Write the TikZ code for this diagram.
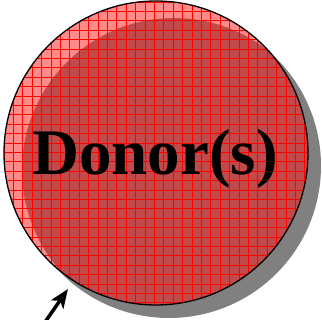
\documentclass[tikz,border=0pt]{standalone}
\usepackage{fontspec}
\setmainfont{Liberation Serif}
\usetikzlibrary{arrows.meta}
\definecolor{lightred}{RGB}{255,138,138}
\definecolor{darkred}{RGB}{194,74,74}
\definecolor{shadowgray}{RGB}{128,128,128}
\tikzset{
  outline/.style={draw=black,line width=1.3pt},
  gridline/.style={draw=red,line width=0.7pt},
  pointer/.style={line width=3.5pt,-{Stealth[length=19pt,width=15pt,inset=5pt]}}
}
\begin{document}
\begin{tikzpicture}[x=1pt,y=-1pt]
\useasboundingbox (0,0) rectangle (322,320);
% shadow
\fill[shadowgray] (169,166) circle (152);
% main disc
\fill[lightred] (156,153) circle (152);
\begin{scope}
  \clip (156,153) circle (152);
  \fill[darkred] (174,170) circle (152);
  \foreach \k in {0,...,33} {
    \draw[gridline] (4+9.4*\k,0) -- (4+9.4*\k,320);
    \draw[gridline] (0,2+9.4*\k) -- (322,2+9.4*\k);
  }
\end{scope}
\node[outline,circle,minimum size=304pt,inner sep=0pt] (disc) at (156,153) {};
\node[anchor=base,font=\fontsize{65}{65}\selectfont\bfseries,inner sep=0pt] (label) at (155,175) {Donor(s)};
\coordinate (tail) at (43,325);
\coordinate (tip) at (68,289);
\draw[pointer] (tail) -- (tip);
\end{tikzpicture}
\end{document}
